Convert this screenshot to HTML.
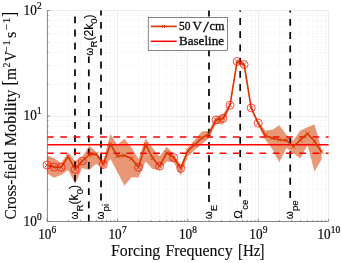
<!DOCTYPE html>
<html lang="en"><head><meta charset="utf-8"><title>Cross-field Mobility</title>
<style>html,body{margin:0;padding:0;background:#fff}svg{display:block}.s{font-family:"Liberation Serif","DejaVu Serif",serif;fill:#0a0a0a;stroke:#0a0a0a;stroke-width:0.22px}.h{font-family:"Liberation Sans","DejaVu Sans",sans-serif;fill:#000}</style></head><body>
<svg width="342" height="263" viewBox="0 0 342 263">
<rect width="342" height="263" fill="#fff"/>
<path d="M68.5 10.5V221.5M80.5 10.5V221.5M89.5 10.5V221.5M96.5 10.5V221.5M101.5 10.5V221.5M106.5 10.5V221.5M110.5 10.5V221.5M114.5 10.5V221.5M138.5 10.5V221.5M151.5 10.5V221.5M159.5 10.5V221.5M166.5 10.5V221.5M172.5 10.5V221.5M176.5 10.5V221.5M181.5 10.5V221.5M184.5 10.5V221.5M209.5 10.5V221.5M221.5 10.5V221.5M230.5 10.5V221.5M237.5 10.5V221.5M242.5 10.5V221.5M247.5 10.5V221.5M251.5 10.5V221.5M255.5 10.5V221.5M279.5 10.5V221.5M291.5 10.5V221.5M300.5 10.5V221.5M307.5 10.5V221.5M312.5 10.5V221.5M317.5 10.5V221.5M321.5 10.5V221.5M325.5 10.5V221.5M47.1 189.5H328.6M47.1 171.5H328.6M47.1 157.5H328.6M47.1 147.5H328.6M47.1 139.5H328.6M47.1 132.5H328.6M47.1 126.5H328.6M47.1 120.5H328.6M47.1 84.5H328.6M47.1 65.5H328.6M47.1 52.5H328.6M47.1 42.5H328.6M47.1 33.5H328.6M47.1 26.5H328.6M47.1 20.5H328.6M47.1 15.5H328.6" stroke="#efefef" stroke-width="1" stroke-dasharray="1 1.6" fill="none"/>
<path d="M117.5 10.5V221.5M187.5 10.5V221.5M258.5 10.5V221.5M328.5 10.5V221.5M47.1 116.5H328.6M47.1 10.5H328.6" stroke="#ececec" stroke-width="1" fill="none"/>
<polygon points="47.0,155.6 54.0,158.0 61.1,163.0 68.1,152.8 75.2,161.0 82.2,157.0 89.2,145.8 96.3,152.0 103.3,160.7 110.4,134.1 117.4,144.8 124.4,138.7 131.5,147.6 138.5,158.9 145.6,138.4 152.6,148.0 159.6,156.6 166.7,146.7 173.7,154.0 180.8,165.5 187.8,147.5 194.8,140.0 201.9,131.6 208.9,131.0 216.0,116.5 223.0,114.5 230.0,103.0 237.1,59.3 244.1,62.3 251.2,106.0 258.2,121.5 265.2,130.5 272.3,129.8 279.3,125.2 286.4,134.8 293.4,140.6 300.4,130.4 307.5,127.2 314.5,124.2 321.6,149.5 321.6,159.5 314.5,171.5 307.5,145.0 300.4,158.4 293.4,153.2 286.4,148.0 279.3,162.4 272.3,148.9 265.2,139.8 258.2,125.0 251.2,110.0 244.1,66.5 237.1,63.5 230.0,107.5 223.0,124.5 216.0,124.0 208.9,138.2 201.9,144.0 194.8,150.0 187.8,156.4 180.8,175.6 173.7,162.2 166.7,161.4 159.6,169.8 152.6,169.0 145.6,161.4 138.5,177.4 131.5,177.3 124.4,185.7 117.4,172.0 110.4,159.0 103.3,169.0 96.3,163.7 89.2,170.0 82.2,168.0 75.2,183.8 68.1,170.0 61.1,175.0 54.0,177.7 47.0,173.5" fill="#DA531B" fill-opacity="0.6"/>
<path d="M75.0 181.6V174.8M75.0 168.4V161.6M75.0 155.2V148.4M75.0 142.0V135.2M75.0 128.8V122.0M75.0 115.6V108.8M75.0 102.4V95.6M75.0 89.2V82.4M75.0 76.0V69.2M75.0 62.8V56.0M75.0 49.6V42.8M75.0 36.4V29.6M75.0 23.2V16.4" stroke="#000" stroke-width="1.7" fill="none"/>
<path d="M88.8 221.5V214.7M88.8 208.3V201.5M88.8 195.1V188.3M88.8 181.9V175.1M88.8 168.7V161.9M88.8 155.5V148.7M88.8 142.3V135.5M88.8 129.1V122.3M88.8 115.9V109.1M88.8 102.7V95.9M88.8 89.5V82.7M88.8 76.3V69.5M88.8 63.1V56.5" stroke="#000" stroke-width="1.7" fill="none"/>
<path d="M101.0 200.4V193.6M101.0 187.2V180.4M101.0 174.0V167.2M101.0 160.8V154.0M101.0 147.6V140.8M101.0 134.4V127.6M101.0 121.2V114.4M101.0 108.0V101.2M101.0 94.8V88.0M101.0 81.6V74.8M101.0 68.4V61.6M101.0 55.2V48.4M101.0 42.0V35.2M101.0 28.8V22.0M101.0 15.6V10.5" stroke="#000" stroke-width="1.7" fill="none"/>
<path d="M209.0 201.9V195.1M209.0 188.7V181.8M209.0 175.4V168.6M209.0 162.2V155.3M209.0 148.9V142.1M209.0 135.7V128.8M209.0 122.4V115.6M209.0 109.2V102.4M209.0 95.9V89.1M209.0 82.7V75.9M209.0 69.4V62.6M209.0 56.2V49.4M209.0 42.9V36.1M209.0 29.7V22.9M209.0 16.4V10.5" stroke="#000" stroke-width="1.7" fill="none"/>
<path d="M240.2 196.5V189.7M240.2 183.3V176.5M240.2 170.1V163.3M240.2 156.9V150.1M240.2 143.7V136.9M240.2 130.5V123.7M240.2 117.3V110.5M240.2 104.1V97.3M240.2 90.9V84.1M240.2 77.7V70.9M240.2 64.5V57.7M240.2 51.3V44.5M240.2 38.1V31.3M240.2 24.9V18.1M240.2 11.7V10.5" stroke="#000" stroke-width="1.7" fill="none"/>
<path d="M290.2 197.9V191.1M290.2 184.7V177.8M290.2 171.4V164.6M290.2 158.2V151.3M290.2 144.9V138.1M290.2 131.7V124.9M290.2 118.4V111.6M290.2 105.2V98.4M290.2 91.9V85.1M290.2 78.7V71.9M290.2 65.4V58.6M290.2 52.2V45.4M290.2 38.9V32.1M290.2 25.7V18.9M290.2 12.4V10.5" stroke="#000" stroke-width="1.7" fill="none"/>
<path d="M47.1 144.7H328.6" stroke="#FF0000" stroke-width="1.5" fill="none"/>
<path d="M47.0 137.1H328.6M47.0 153.3H328.6" stroke="#FF0000" stroke-width="1.5" stroke-dasharray="6.7 6.58" fill="none"/>
<polyline points="47.0,165.0 54.0,167.1 61.1,167.2 68.1,156.6 75.2,169.4 82.2,161.0 89.2,155.0 96.3,154.0 103.3,164.5 110.4,144.0 117.4,156.2 124.4,155.4 131.5,158.6 138.5,167.3 145.6,144.4 152.6,158.0 159.6,166.2 166.7,152.9 173.7,157.5 180.8,168.3 187.8,150.8 194.8,144.6 201.9,137.8 208.9,134.0 216.0,119.9 223.0,118.4 230.0,105.2 237.1,61.5 244.1,64.5 251.2,107.9 258.2,123.1 265.2,135.4 272.3,138.2 279.3,139.8 286.4,140.4 293.4,146.5 300.4,140.2 307.5,133.6 314.5,141.3 321.6,152.0" fill="none" stroke="#DA3800" stroke-width="1.6" stroke-linejoin="round"/>
<path d="M44.9 162.9L49.1 167.1M44.9 167.1L49.1 162.9M51.9 165.0L56.1 169.2M51.9 169.2L56.1 165.0M59.0 165.1L63.2 169.3M59.0 169.3L63.2 165.1M66.0 154.5L70.2 158.7M66.0 158.7L70.2 154.5M73.1 167.3L77.3 171.5M73.1 171.5L77.3 167.3M80.1 158.9L84.3 163.1M80.1 163.1L84.3 158.9M87.1 152.9L91.3 157.1M87.1 157.1L91.3 152.9M94.2 151.9L98.4 156.1M94.2 156.1L98.4 151.9M101.2 162.4L105.4 166.6M101.2 166.6L105.4 162.4M108.3 141.9L112.5 146.1M108.3 146.1L112.5 141.9M115.3 154.1L119.5 158.3M115.3 158.3L119.5 154.1M122.3 153.3L126.5 157.5M122.3 157.5L126.5 153.3M129.4 156.5L133.6 160.7M129.4 160.7L133.6 156.5M136.4 165.2L140.6 169.4M136.4 169.4L140.6 165.2M143.5 142.3L147.7 146.5M143.5 146.5L147.7 142.3M150.5 155.9L154.7 160.1M150.5 160.1L154.7 155.9M157.5 164.1L161.7 168.3M157.5 168.3L161.7 164.1M164.6 150.8L168.8 155.0M164.6 155.0L168.8 150.8M171.6 155.4L175.8 159.6M171.6 159.6L175.8 155.4M178.7 166.2L182.9 170.4M178.7 170.4L182.9 166.2M185.7 148.7L189.9 152.9M185.7 152.9L189.9 148.7M192.7 142.5L196.9 146.7M192.7 146.7L196.9 142.5M199.8 135.7L204.0 139.9M199.8 139.9L204.0 135.7M206.8 131.9L211.0 136.1M206.8 136.1L211.0 131.9M213.9 117.8L218.1 122.0M213.9 122.0L218.1 117.8M220.9 116.3L225.1 120.5M220.9 120.5L225.1 116.3M227.9 103.1L232.1 107.3M227.9 107.3L232.1 103.1M235.0 59.4L239.2 63.6M235.0 63.6L239.2 59.4M242.0 62.4L246.2 66.6M242.0 66.6L246.2 62.4M249.1 105.8L253.3 110.0M249.1 110.0L253.3 105.8M256.1 121.0L260.3 125.2M256.1 125.2L260.3 121.0M263.1 133.3L267.3 137.5M263.1 137.5L267.3 133.3M270.2 136.1L274.4 140.3M270.2 140.3L274.4 136.1M277.2 137.7L281.4 141.9M277.2 141.9L281.4 137.7M284.3 138.3L288.5 142.5M284.3 142.5L288.5 138.3M291.3 144.4L295.5 148.6M291.3 148.6L295.5 144.4M298.3 138.1L302.5 142.3M298.3 142.3L302.5 138.1M305.4 131.5L309.6 135.7M305.4 135.7L309.6 131.5M312.4 139.2L316.6 143.4M312.4 143.4L316.6 139.2M319.5 149.9L323.7 154.1M319.5 154.1L323.7 149.9" stroke="#DA3800" stroke-width="0.85" fill="none"/>
<circle cx="47.0" cy="165.0" r="4.0" fill="none" stroke="#FF0000" stroke-width="0.7"/>
<circle cx="54.0" cy="167.1" r="4.0" fill="none" stroke="#FF0000" stroke-width="0.7"/>
<circle cx="61.1" cy="167.2" r="4.0" fill="none" stroke="#FF0000" stroke-width="0.7"/>
<circle cx="75.2" cy="169.4" r="4.0" fill="none" stroke="#FF0000" stroke-width="0.7"/>
<circle cx="82.2" cy="161.0" r="4.0" fill="none" stroke="#FF0000" stroke-width="0.7"/>
<circle cx="103.3" cy="164.5" r="4.0" fill="none" stroke="#FF0000" stroke-width="0.7"/>
<circle cx="138.5" cy="167.3" r="4.0" fill="none" stroke="#FF0000" stroke-width="0.7"/>
<circle cx="159.6" cy="166.2" r="4.0" fill="none" stroke="#FF0000" stroke-width="0.7"/>
<circle cx="173.7" cy="157.5" r="4.0" fill="none" stroke="#FF0000" stroke-width="0.7"/>
<circle cx="180.8" cy="168.3" r="4.0" fill="none" stroke="#FF0000" stroke-width="0.7"/>
<circle cx="216.0" cy="119.9" r="4.0" fill="none" stroke="#FF0000" stroke-width="0.7"/>
<circle cx="223.0" cy="118.4" r="4.0" fill="none" stroke="#FF0000" stroke-width="0.7"/>
<circle cx="230.0" cy="105.2" r="4.0" fill="none" stroke="#FF0000" stroke-width="0.7"/>
<circle cx="237.1" cy="61.5" r="4.0" fill="none" stroke="#FF0000" stroke-width="0.7"/>
<circle cx="244.1" cy="64.5" r="4.0" fill="none" stroke="#FF0000" stroke-width="0.7"/>
<circle cx="251.2" cy="107.9" r="4.0" fill="none" stroke="#FF0000" stroke-width="0.7"/>
<circle cx="258.2" cy="123.1" r="4.0" fill="none" stroke="#FF0000" stroke-width="0.7"/>
<path d="M47.4 10.5V221.5H328.6" stroke="#6a6a6a" stroke-width="0.8" fill="none"/>
<path d="M47.10 221.5v-2.8M68.28 221.5v-1.4M80.68 221.5v-1.4M89.47 221.5v-1.4M96.29 221.5v-1.4M101.86 221.5v-1.4M106.57 221.5v-1.4M110.65 221.5v-1.4M114.25 221.5v-1.4M117.47 221.5v-2.8M138.66 221.5v-1.4M151.05 221.5v-1.4M159.84 221.5v-1.4M166.67 221.5v-1.4M172.24 221.5v-1.4M176.95 221.5v-1.4M181.03 221.5v-1.4M184.63 221.5v-1.4M187.85 221.5v-2.8M209.03 221.5v-1.4M221.43 221.5v-1.4M230.22 221.5v-1.4M237.04 221.5v-1.4M242.61 221.5v-1.4M247.32 221.5v-1.4M251.40 221.5v-1.4M255.00 221.5v-1.4M258.23 221.5v-2.8M279.41 221.5v-1.4M291.80 221.5v-1.4M300.59 221.5v-1.4M307.42 221.5v-1.4M312.99 221.5v-1.4M317.70 221.5v-1.4M321.78 221.5v-1.4M325.38 221.5v-1.4M328.60 221.5v-2.8M47.1 221.50h2.8M47.1 189.74h1.4M47.1 171.16h1.4M47.1 157.98h1.4M47.1 147.76h1.4M47.1 139.41h1.4M47.1 132.34h1.4M47.1 126.22h1.4M47.1 120.83h1.4M47.1 116.00h2.8M47.1 84.24h1.4M47.1 65.66h1.4M47.1 52.48h1.4M47.1 42.26h1.4M47.1 33.91h1.4M47.1 26.84h1.4M47.1 20.72h1.4M47.1 15.33h1.4M47.1 10.50h2.8" stroke="#666" stroke-width="0.7" fill="none"/>
<g class="s"><text x="38.2" y="238.6" font-size="14" textLength="13.2" lengthAdjust="spacingAndGlyphs">10</text><text x="51.6" y="232.7" font-size="10.0" textLength="4.7" lengthAdjust="spacingAndGlyphs">6</text></g>
<g class="s"><text x="108.5" y="238.6" font-size="14" textLength="13.2" lengthAdjust="spacingAndGlyphs">10</text><text x="121.9" y="232.7" font-size="10.0" textLength="4.7" lengthAdjust="spacingAndGlyphs">7</text></g>
<g class="s"><text x="178.9" y="238.6" font-size="14" textLength="13.2" lengthAdjust="spacingAndGlyphs">10</text><text x="192.3" y="232.7" font-size="10.0" textLength="4.7" lengthAdjust="spacingAndGlyphs">8</text></g>
<g class="s"><text x="249.3" y="238.6" font-size="14" textLength="13.2" lengthAdjust="spacingAndGlyphs">10</text><text x="262.7" y="232.7" font-size="10.0" textLength="4.7" lengthAdjust="spacingAndGlyphs">9</text></g>
<g class="s"><text x="317.4" y="238.6" font-size="14" textLength="13.2" lengthAdjust="spacingAndGlyphs">10</text><text x="330.8" y="232.7" font-size="10.0" textLength="9.4" lengthAdjust="spacingAndGlyphs">10</text></g>
<g class="s"><text x="23.6" y="225.7" font-size="14" textLength="13.2" lengthAdjust="spacingAndGlyphs">10</text><text x="37.0" y="219.8" font-size="10.0" textLength="4.7" lengthAdjust="spacingAndGlyphs">0</text></g>
<g class="s"><text x="23.6" y="120.2" font-size="14" textLength="13.2" lengthAdjust="spacingAndGlyphs">10</text><text x="37.0" y="114.3" font-size="10.0" textLength="4.7" lengthAdjust="spacingAndGlyphs">1</text></g>
<g class="s"><text x="23.6" y="14.7" font-size="14" textLength="13.2" lengthAdjust="spacingAndGlyphs">10</text><text x="37.0" y="8.8" font-size="10.0" textLength="4.7" lengthAdjust="spacingAndGlyphs">2</text></g>
<g class="s" style="stroke-width:0.1px" transform="translate(0,256.1)"><text x="111.0" y="0" font-size="16" textLength="49.3" lengthAdjust="spacingAndGlyphs">Forcing</text><text x="165.4" y="0" font-size="16" textLength="67.2" lengthAdjust="spacingAndGlyphs">Frequency</text><text x="237.9" y="1.0" font-size="17.9" textLength="5.0" lengthAdjust="spacingAndGlyphs">[</text><text x="243.0" y="0" font-size="16" textLength="17.4" lengthAdjust="spacingAndGlyphs">Hz</text><text x="259.5" y="1.0" font-size="17.9" textLength="5.0" lengthAdjust="spacingAndGlyphs">]</text></g>
<g class="s" style="stroke-width:0.1px" transform="translate(15.7,218.5) rotate(-90)"><text x="-1.1" y="0" font-size="16" textLength="68.1" lengthAdjust="spacingAndGlyphs">Cross-field</text><text x="72.2" y="0" font-size="16" textLength="56.6" lengthAdjust="spacingAndGlyphs">Mobility</text><text x="133.2" y="-0.3" font-size="17.9" textLength="5.0" lengthAdjust="spacingAndGlyphs">[</text><text x="138.6" y="0" font-size="16" textLength="12.0" lengthAdjust="spacingAndGlyphs">m</text><text x="151.0" y="-5.8" font-size="10.4" textLength="5.0" lengthAdjust="spacingAndGlyphs">2</text><text x="157.0" y="0" font-size="16" textLength="10.3" lengthAdjust="spacingAndGlyphs">V</text><text x="166.3" y="-5.8" font-size="10.4" textLength="12.0" lengthAdjust="spacingAndGlyphs">−1</text><text x="180.6" y="0" font-size="16" textLength="6.4" lengthAdjust="spacingAndGlyphs">s</text><text x="188.3" y="-5.8" font-size="10.4" textLength="12.8" lengthAdjust="spacingAndGlyphs">−1</text><text x="201.4" y="-0.3" font-size="17.9" textLength="5.0" lengthAdjust="spacingAndGlyphs">]</text></g>
<rect x="148.2" y="17.45" width="79.30000000000001" height="32.900000000000006" fill="#fff" stroke="#333" stroke-width="0.6"/>
<path d="M150.8 26.4H176.7" stroke="#DA3800" stroke-width="1.6"/>
<path d="M161.9 24.799999999999997L165.1 28.0M161.9 28.0L165.1 24.799999999999997" stroke="#DA3800" stroke-width="1.0"/>
<path d="M150.8 41.3H176.7" stroke="#FF0000" stroke-width="1.5"/>
<g class="s" style="stroke-width:0.3px" transform="translate(0,30.0)"><text x="179.0" y="0" font-size="12.4" textLength="11.4" lengthAdjust="spacingAndGlyphs">50</text><text x="192.6" y="0" font-size="12.4" textLength="9.4" lengthAdjust="spacingAndGlyphs">V</text><text x="203.0" y="2.0" font-size="15.5" textLength="6.0" lengthAdjust="spacingAndGlyphs">/</text><text x="209.6" y="0" font-size="12.4" textLength="14.9" lengthAdjust="spacingAndGlyphs">cm</text></g>
<g class="s" style="stroke-width:0.3px" transform="translate(0,44.6)"><text x="179.0" y="0" font-size="12.4" textLength="45.0" lengthAdjust="spacingAndGlyphs">Baseline</text></g>
<g class="h" stroke="#000" stroke-width="0.15" transform="translate(77.9,219.3) rotate(-90)"><text x="0.00" y="0" font-size="10.6" textLength="7.53" lengthAdjust="spacingAndGlyphs">ω</text><text x="7.93" y="4.6" font-size="9.5">R</text><text x="14.79" y="0" font-size="12.2">(k</text><text x="24.95" y="4.6" font-size="9.5">0</text><text x="30.23" y="0" font-size="12.2">)</text></g>
<g class="h" stroke="#000" stroke-width="0.15" transform="translate(92.6,55.4) rotate(-90)"><text x="0.00" y="0" font-size="10.6" textLength="7.53" lengthAdjust="spacingAndGlyphs">ω</text><text x="7.93" y="4.6" font-size="9.5">R</text><text x="14.79" y="0" font-size="12.2">(2k</text><text x="31.73" y="4.6" font-size="9.5">0</text><text x="37.02" y="0" font-size="12.2">)</text></g>
<g class="h" stroke="#000" stroke-width="0.15" transform="translate(104.3,219.3) rotate(-90)"><text x="0.00" y="0" font-size="10.6" textLength="7.53" lengthAdjust="spacingAndGlyphs">ω</text><text x="7.93" y="4.6" font-size="9.5">pi</text></g>
<g class="h" stroke="#000" stroke-width="0.15" transform="translate(212.2,219.1) rotate(-90)"><text x="0.00" y="0" font-size="10.6" textLength="7.53" lengthAdjust="spacingAndGlyphs">ω</text><text x="7.93" y="4.3" font-size="9.5">E</text></g>
<g class="h" stroke="#000" stroke-width="0.15" transform="translate(242.2,218.8) rotate(-90)"><text x="0.00" y="0" font-size="10.8" textLength="8.63" lengthAdjust="spacingAndGlyphs">Ω</text><text x="9.03" y="5.8" font-size="9.5">ce</text></g>
<g class="h" stroke="#000" stroke-width="0.15" transform="translate(293.2,219.0) rotate(-90)"><text x="0.00" y="0" font-size="10.6" textLength="7.53" lengthAdjust="spacingAndGlyphs">ω</text><text x="7.93" y="4.6" font-size="9.5">pe</text></g>
</svg></body></html>
